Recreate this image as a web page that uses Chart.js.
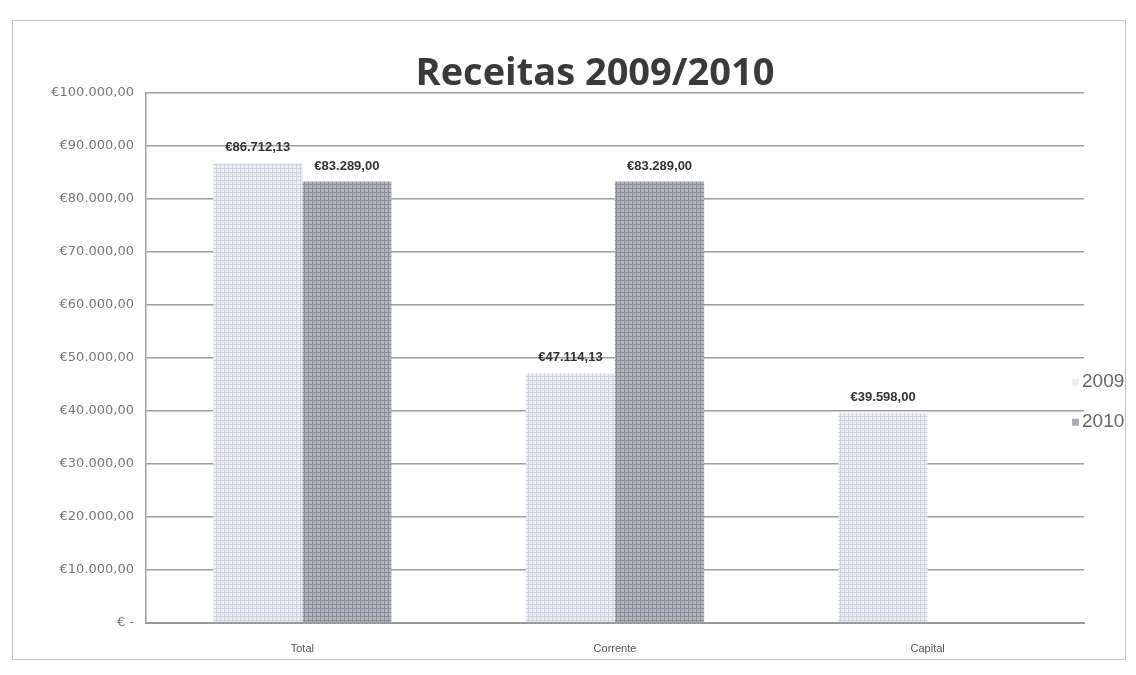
<!DOCTYPE html>
<html>
<head>
<meta charset="utf-8">
<script src="https://cdn.jsdelivr.net/npm/chart.js@4"></script>
<style>
    html, body { margin: 0; padding: 0; background: #fff; }
    #wrap { position: relative; width: 1136px; height: 675px; }
    #frame { position: absolute; left: 12px; top: 20px; width: 1112px; height: 638px; border: 1px solid #c4c4c4; }
    #chart { position: absolute; left: 0; top: 0; }
</style>
</head>
<body>
<div id="wrap">
    <div id="frame"></div>
    <canvas id="chart" width="1136" height="675"></canvas>
</div>
<script>
    // <-- Data -->
    const categories = ['Total', 'Corrente', 'Capital'];
    const years = ['2009', '2010'];
    const values2009 = [86712.13, 47114.13, 39598.00];
    const values2010 = [83289.00, 83289.00, 0];
    const yTicks = [0, 10000, 20000, 30000, 40000, 50000, 60000, 70000, 80000, 90000, 100000];
    const chartTitle = 'Receitas 2009/2010';

    function el(id) { return document.getElementById(id); }

    // 1234.5 -> "€1.234,50"
    function euro(v) {
        if (v === 0) return '€ -';
        const parts = v.toFixed(2).split('.');
        return '€' + parts[0].replace(/\B(?=(\d{3})+(?!\d))/g, '.') + ',' + parts[1];
    }

    // <-- Hatched fill like the scanned bars -->
    function hatch(base, line) {
        const c = document.createElement('canvas');
        c.width = 4; c.height = 4;
        const g = c.getContext('2d');
        g.fillStyle = base;
        g.fillRect(0, 0, 4, 4);
        g.fillStyle = line;
        g.fillRect(0, 0, 4, 1);
        g.fillRect(0, 0, 1, 4);
        return g.createPattern(c, 'repeat');
    }

    const valueLabels = {
        id: 'valueLabels',
        afterDatasetsDraw(chart) {
            const ctx = chart.ctx;
            ctx.save();
            ctx.font = 'bold 13px "Liberation Sans", sans-serif';
            ctx.fillStyle = '#333';
            ctx.textAlign = 'center';
            ctx.textBaseline = 'bottom';
            chart.data.datasets.forEach((ds, i) => {
                chart.getDatasetMeta(i).data.forEach((bar, j) => {
                    if (!ds.data[j]) return;
                    ctx.fillText(euro(ds.data[j]), bar.x, bar.y - 9);
                });
            });
            ctx.restore();
        }
    };

    // title sits a bit right of the plot centre in the scan
    const titleText = {
        id: 'titleText',
        afterDraw(chart) {
            const ctx = chart.ctx;
            ctx.save();
            ctx.font = 'bold 38px "Open Sans", sans-serif';
            ctx.fillStyle = '#3a3a3a';
            ctx.textAlign = 'center';
            ctx.textBaseline = 'middle';
            ctx.fillText(chartTitle, 595, 74);
            ctx.restore();
        }
    };

    const sideLegend = {
        id: 'sideLegend',
        afterDraw(chart) {
            const ctx = chart.ctx;
            const a = chart.chartArea;
            const y = a.top + (a.bottom - a.top) * 0.545;
            ctx.save();
            ctx.font = '19px "Liberation Sans", sans-serif';
            ctx.textBaseline = 'middle';
            chart.data.datasets.forEach((ds, i) => {
                const ly = y + i * 40;
                ctx.fillStyle = i === 0 ? '#eceef4' : '#a9abb6';
                ctx.fillRect(a.right - 12, ly - 3, 7, 7);
                ctx.fillStyle = '#666';
                ctx.fillText(ds.label, a.right - 2, ly);
            });
            ctx.restore();
        }
    };

    // <-- Init -->
    window.addEventListener('DOMContentLoaded', function () {
        const ctx = el('chart');
        if (!ctx || typeof Chart === 'undefined') return;
        new Chart(ctx, {
            type: 'bar',
            data: {
                labels: categories,
                datasets: [
                    { label: years[0], data: values2009, backgroundColor: hatch('#eceef5', '#cfd1dd') },
                    { label: years[1], data: values2010, backgroundColor: hatch('#b3b5bf', '#8b8d99') }
                ]
            },
            options: {
                responsive: false,
                animation: false,
                layout: { padding: { left: 8, right: 52, top: 93, bottom: 7 } },
                datasets: { bar: { categoryPercentage: 0.57, barPercentage: 1.0 } },
                scales: {
                    x: {
                        grid: { display: false },
                        border: { color: '#9a9a9a', width: 2 },
                        ticks: { color: '#555', font: { size: 11, family: '"Liberation Sans", sans-serif' }, padding: 12 }
                    },
                    y: {
                        min: 0,
                        max: 100000,
                        afterFit: s => { s.width = 138; },
                        afterBuildTicks: s => { s.ticks = yTicks.map(v => ({ value: v })); },
                        border: { color: '#a0a0a0', width: 1.5 },
                        grid: { color: '#9e9e9e', lineWidth: 1.5, drawTicks: false },
                        ticks: {
                            color: '#777',
                            padding: 12,
                            font: { size: 13, family: '"DejaVu Sans", sans-serif' },
                            callback: v => euro(v)
                        }
                    }
                },
                plugins: {
                    legend: { display: false },
                    tooltip: { enabled: false },
                    title: { display: false }
                }
            },
            plugins: [valueLabels, titleText, sideLegend]
        });
    });
</script>
</body>
</html>
